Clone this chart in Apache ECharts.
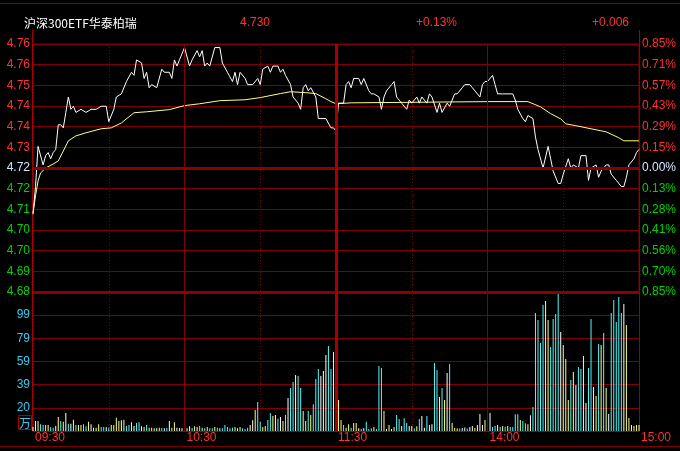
<!DOCTYPE html>
<html><head><meta charset="utf-8">
<script src="https://cdn.jsdelivr.net/npm/echarts@6/dist/echarts.min.js"></script>
<style>html,body{margin:0;padding:0;background:#000;}#c{width:680px;height:451px;}</style>
</head><body><div id="c"></div>
<script>
const stockName = '沪深300ETF华泰柏瑞';
const lastPrice = '4.730';
const changePct = '+0.13%';
const changeAmt = '+0.006';
const prevClose = 4.724;
const maxPct = 0.0085;
const timeLabels = ['09:30', '10:30', '11:30', '14:00', '15:00'];
const timeLabelMinutes = [0, 60, 120, 180, 240];
// bottom to top
const priceTickLabels = ['4.68','4.69','4.70','4.70','4.71','4.72','4.72','4.73','4.74','4.74','4.75','4.76','4.76'];
const pctTickLabels = ['0.85%','0.70%','0.56%','0.41%','0.28%','0.13%','0.00%','0.15%','0.29%','0.43%','0.57%','0.71%','0.85%'];
const volTickLabels = ['', '20', '39', '59', '79', '99', ''];
const volUnit = '万';
const volAxisMax = 118.8;

// [minute index, price]
const pricePoints = [[0,4.709],[1,4.718],[2,4.731],[4,4.725],[5,4.728],[6,4.729],[7,4.727],[8,4.729],[9,4.730],[10,4.738],[11,4.738],[12,4.737],[13,4.742],[14,4.747],[15,4.743],[16,4.744],[17,4.742],[19,4.743],[21,4.742],[23,4.743],[25,4.743],[27,4.744],[29,4.744],[30,4.739],[32,4.743],[33,4.747],[35,4.748],[37,4.752],[39,4.755],[40,4.754],[41,4.759],[43,4.758],[44,4.753],[45,4.755],[46,4.750],[47,4.751],[49,4.750],[51,4.756],[52,4.755],[54,4.755],[55,4.753],[56,4.759],[57,4.757],[58,4.759],[60,4.763],[62,4.757],[63,4.759],[65,4.762],[66,4.760],[67,4.762],[68,4.757],[69,4.758],[70,4.757],[72,4.763],[74,4.763],[75,4.758],[77,4.755],[79,4.752],[80,4.755],[81,4.751],[82,4.755],[84,4.753],[85,4.751],[87,4.751],[89,4.753],[90,4.751],[91,4.756],[93,4.757],[94,4.755],[95,4.757],[97,4.757],[98,4.755],[99,4.756],[100,4.754],[102,4.751],[103,4.747],[105,4.745],[106,4.743],[107,4.750],[108,4.751],[109,4.749],[110,4.750],[112,4.747],[113,4.740],[116,4.740],[118,4.737],[119,4.737],[120,4.736],[121,4.745],[123,4.745],[124,4.751],[125,4.752],[126,4.750],[127,4.753],[129,4.753],[130,4.751],[131,4.753],[133,4.749],[134,4.748],[135,4.748],[137,4.747],[138,4.743],[139,4.747],[140,4.749],[142,4.751],[143,4.752],[144,4.747],[145,4.746],[146,4.745],[148,4.743],[149,4.746],[150,4.745],[152,4.747],[153,4.745],[154,4.747],[156,4.745],[157,4.748],[158,4.747],[160,4.742],[161,4.745],[162,4.742],[164,4.745],[165,4.744],[166,4.746],[167,4.748],[168,4.748],[170,4.750],[171,4.751],[173,4.751],[174,4.750],[176,4.748],[177,4.747],[178,4.751],[179,4.752],[180,4.752],[182,4.754],[183,4.751],[184,4.748],[186,4.748],[187,4.748],[189,4.748],[190,4.748],[191,4.746],[192,4.743],[194,4.740],[195,4.739],[196,4.741],[198,4.740],[199,4.734],[200,4.730],[202,4.724],[204,4.731],[205,4.727],[206,4.723],[208,4.719],[209,4.719],[210,4.722],[212,4.727],[213,4.724],[214,4.725],[216,4.724],[217,4.728],[219,4.728],[220,4.720],[221,4.724],[223,4.725],[224,4.721],[225,4.723],[227,4.725],[228,4.725],[229,4.722],[231,4.720],[233,4.718],[234,4.718],[235,4.721],[236,4.725],[238,4.727],[239,4.729],[240,4.730]];

// [minute index, average price]
const avgPoints = [[0,4.7094],[1,4.7150],[2,4.7198],[3,4.7224],[5,4.7240],[8,4.7253],[10,4.7263],[12,4.7295],[14,4.7328],[17,4.7344],[21,4.7354],[27,4.7367],[31,4.7370],[35,4.7386],[40,4.7419],[45,4.7422],[54,4.7429],[60,4.7442],[66,4.7448],[74,4.7458],[84,4.7461],[90,4.7468],[98,4.7481],[102,4.7487],[108,4.7484],[112,4.7481],[116,4.7464],[118,4.7455],[120,4.7448],[126,4.7451],[181,4.7455],[196,4.7455],[201,4.7438],[205,4.7416],[209,4.7399],[211,4.7383],[215,4.7377],[221,4.7367],[227,4.7357],[232,4.7338],[234,4.7328],[240,4.7328]];

// volume per minute (万), minute 0..240
const volumes = [
 3.4,8.5,8.5,5.7,5.1,5.1,5.1,3.4,2.8,4.3,
 12,8.5,8,15.4,6.2,6.2,9.7,5.1,5.1,5.1,
 5.7,4,8,5.7,2.8,2.8,5.7,3.4,3.4,3.4,
 2.8,5.1,5.1,11.4,8.5,9.1,9.7,4.3,5.1,7.4,
 4.3,6.8,7.4,4,3.4,5.1,2.8,2.8,2.3,2.3,
 2.8,2.6,2.3,2.6,8.5,2.8,7.4,2.8,2.6,2.3,
 5.1,2.3,4,2.6,4,3.4,4.3,2.8,2.3,3.4,
 2.3,2.3,3.4,2.8,2.3,2.3,5.1,3.4,2.3,2.8,
 3.4,2.3,3.4,2.3,1.7,2.8,5.1,9.1,18,24.8,
 8,3.4,4.3,9.4,15.4,12.8,13.7,10.5,12,8.5,
 13.7,28.2,36.8,41.9,47.9,47,36.8,17.1,8.5,17.1,
 13.7,22.8,44.4,53,47,51.3,65,72.6,53,67.5,
 61.5,26.5,9.4,5.1,2.8,5.7,2.8,6.8,6.8,2.3,
 1.7,2.3,8,1.7,2.3,3.4,1.7,55.6,53.8,17.1,
 1.7,5.1,1.7,3.4,13.7,10.3,4.3,10.9,6.8,4.3,
 4.3,2.3,4,10.3,12.8,2.8,12.8,5.1,5.7,58.1,
 52.1,29.1,36.8,26.5,49.6,57.3,6.8,2.6,2.1,2.1,
 2.6,3,2.1,3.4,4.3,2.6,5.1,14.5,5.1,9.4,
 5.1,15.4,3.4,4.3,5.1,3.4,4.3,3.7,4.3,3.4,
 3.4,14.3,14.3,9.4,8.5,6.6,5.7,13.4,20.5,100.9,
 94.9,75.2,107.7,111.1,94.9,71.8,95.7,100,117.9,84.6,
 73.5,61.5,26.5,43.6,50.4,39.3,54.7,53,64.1,23.9,
 53.8,95.7,37.6,29.9,74.4,73.5,83.8,36.8,14.5,100.9,
 112,93.2,114.5,100.9,108.5,90.6,11.1,5.1,4.3,5.1,5.1
];
// tick direction per minute: u = up, d = down, f = flat
const volDirection = (
 'fuudduuddf' + 'udufdfuduu' + 'dduffuuddf' + 'duuuufuddu' + 'fddfuduuuf' +
 'udfdfuufuf' + 'fufdufdudu' + 'ddudfddddd' + 'ufudddffud' + 'duuddufdfu' +
 'dfddfdduud' + 'udddfffddu' + 'duuduuduuf' + 'dfdddudddu' + 'fufuddfddf' +
 'fdudffdufd' + 'dudufduufd' + 'ffdffufffu' + 'ffddfdudud' + 'ddduddufdd' +
 'ddduuddddf' + 'uuudufdduf' + 'dduududufd' + 'ddddfuufuuu').split('');

const RED = '#ff3232', GREEN = '#00d200', CYAN = '#3cc8f0', MID = '#d4e4ff';
const GRIDC = '#800000', THICK = '#8c0000', BRIGHT = '#a80000';
const dirColor = { u: '#ffff80', d: '#54f8f8', f: '#ffffff' };
const step = prevClose * maxPct / 6;
const toStep = p => (p - prevClose) / step;
const volStep = volAxisMax / 6;

const chart = echarts.init(document.getElementById('c'), null, { renderer: 'canvas' });
const numFont = 'Liberation Sans';
const option = {
  backgroundColor: '#000',
  animation: false,
  grid: [
    { left: 33, right: 41, top: 44, height: 248, show: true, borderColor: GRIDC, borderWidth: 1 },
    { left: 33, right: 41, top: 292, height: 139 }
  ],
  xAxis: [
    { gridIndex: 0, type: 'value', min: 0, max: 240, interval: 30,
      axisLine: { show: false }, axisTick: { show: false }, axisLabel: { show: false },
      splitLine: { show: true, lineStyle: { color: GRIDC, type: [1, 2], width: 1 } } },
    { gridIndex: 1, type: 'value', min: 0, max: 240, interval: 30,
      axisLine: { show: true, onZero: false, lineStyle: { color: BRIGHT, width: 1 } },
      axisTick: { show: false },
      splitLine: { show: true, lineStyle: { color: GRIDC, type: [1, 2], width: 1 } },
      axisLabel: { show: true, showMinLabel: true, showMaxLabel: true, align: 'left', padding: [0, 0, 0, 2], margin: 1,
        color: RED, fontSize: 12, fontFamily: numFont,
        formatter: v => { const i = timeLabelMinutes.indexOf(Math.round(v)); return i >= 0 ? timeLabels[i] : ''; } } }
  ],
  yAxis: [
    { gridIndex: 0, type: 'value', min: -6, max: 6, interval: 1, position: 'left',
      axisLine: { show: false }, axisTick: { show: false },
      splitLine: { show: true, lineStyle: { color: GRIDC, width: 1 } },
      axisLabel: { margin: 3, fontSize: 12, fontFamily: numFont,
        formatter: v => priceTickLabels[Math.round(v) + 6],
        color: v => { v = Number(v); return v > 0 ? RED : (v < 0 ? GREEN : MID); } } },
    { gridIndex: 0, type: 'value', min: -6, max: 6, interval: 1, position: 'right',
      axisLine: { show: false }, axisTick: { show: false }, splitLine: { show: false },
      axisLabel: { margin: 3, fontSize: 12, fontFamily: numFont,
        formatter: v => pctTickLabels[Math.round(v) + 6],
        color: v => { v = Number(v); return v > 0 ? RED : (v < 0 ? GREEN : MID); } } },
    { gridIndex: 1, type: 'value', min: 0, max: volStep * 6, interval: volStep, position: 'left',
      axisLine: { show: false }, axisTick: { show: false },
      splitLine: { show: true, lineStyle: { color: GRIDC, width: 1 } },
      axisLabel: { margin: 3, fontSize: 12, fontFamily: numFont, color: CYAN,
        formatter: v => volTickLabels[Math.round(v / volStep)] || '' } }
  ],
  series: [
    { name: 'frame', type: 'line', xAxisIndex: 0, yAxisIndex: 0, data: [], z: 1, silent: true,
      markLine: { silent: true, symbol: 'none', label: { show: false }, animation: false,
        data: [
          { yAxis: 0, lineStyle: { color: THICK, width: 3, type: 'solid' } },
          { xAxis: 60, lineStyle: { color: GRIDC, width: 1, type: 'solid' } },
          { xAxis: 180, lineStyle: { color: GRIDC, width: 1, type: 'solid' } },
          { xAxis: 120, lineStyle: { color: BRIGHT, width: 3, type: 'solid' } },
          { yAxis: -6, lineStyle: { color: THICK, width: 3, type: 'solid' } }
        ] } },
    { name: 'frame2', type: 'line', xAxisIndex: 1, yAxisIndex: 2, data: [], z: 1, silent: true,
      markLine: { silent: true, symbol: 'none', label: { show: false }, animation: false,
        data: [
          { xAxis: 60, lineStyle: { color: GRIDC, width: 1, type: 'solid' } },
          { xAxis: 180, lineStyle: { color: GRIDC, width: 1, type: 'solid' } },
          { xAxis: 120, lineStyle: { color: BRIGHT, width: 3, type: 'solid' } }
        ] } },
    { name: '均价', type: 'line', xAxisIndex: 0, yAxisIndex: 0, z: 3, showSymbol: false, silent: true,
      lineStyle: { color: '#ffff80', width: 1 },
      data: avgPoints.map(d => [d[0], toStep(d[1])]) },
    { name: '价格', type: 'line', xAxisIndex: 0, yAxisIndex: 0, z: 4, showSymbol: false, silent: true,
      lineStyle: { color: '#ffffff', width: 1 },
      data: pricePoints.map(d => [d[0], toStep(d[1])]) },
    { name: '成交量', type: 'bar', xAxisIndex: 1, yAxisIndex: 2, z: 3, barWidth: 1, silent: true,
      data: volumes.map((v, i) => ({ value: [i, v], itemStyle: { color: dirColor[volDirection[i]] } })) }
  ],
  graphic: [
    { type: 'line', shape: { x1: 0, y1: 3.5, x2: 680, y2: 3.5 }, style: { stroke: GRIDC, lineWidth: 1 }, silent: true },
    { type: 'line', shape: { x1: 0, y1: 446.5, x2: 680, y2: 446.5 }, style: { stroke: GRIDC, lineWidth: 1 }, silent: true },
    { type: 'line', shape: { x1: 32.5, y1: 30, x2: 32.5, y2: 431 }, style: { stroke: BRIGHT, lineWidth: 1 }, silent: true },
    { type: 'line', shape: { x1: 639.5, y1: 30, x2: 639.5, y2: 431 }, style: { stroke: BRIGHT, lineWidth: 1 }, silent: true },
    { type: 'text', x: 24, y: 23, style: { text: stockName, fill: '#ffffff', font: '12px "Noto Sans CJK SC"', textVerticalAlign: 'middle' } },
    { type: 'text', x: 240, y: 23, style: { text: lastPrice, fill: RED, font: '12px "Liberation Sans"', textVerticalAlign: 'middle' } },
    { type: 'text', x: 416, y: 23, style: { text: changePct, fill: RED, font: '12px "Liberation Sans"', textVerticalAlign: 'middle' } },
    { type: 'text', x: 592, y: 23, style: { text: changeAmt, fill: RED, font: '12px "Liberation Sans"', textVerticalAlign: 'middle' } },
    { type: 'rect', shape: { x: 18.5, y: 415.5, width: 13, height: 14 }, style: { fill: 'none', stroke: BRIGHT, lineWidth: 1 }, silent: true },
    { type: 'text', x: 19, y: 423, style: { text: volUnit, fill: CYAN, font: '12px "Noto Sans CJK SC"', textVerticalAlign: 'middle' } }
  ]
};
chart.setOption(option);
</script>
</body></html>
